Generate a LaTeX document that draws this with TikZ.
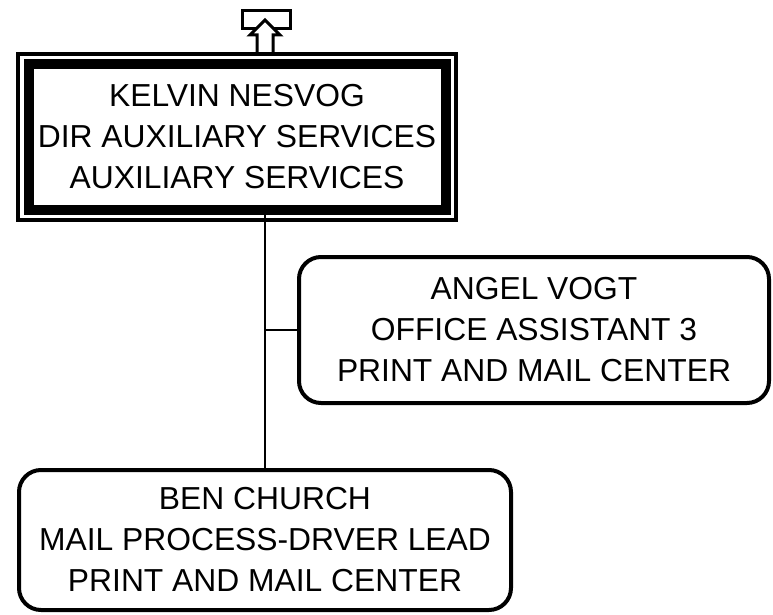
\documentclass[tikz,border=0pt]{standalone}
\usepackage{fontspec}
\setmainfont{Liberation Sans}
\usetikzlibrary{positioning}

\tikzset{
  person/.style={draw,align=center,inner sep=0pt,outer sep=0pt,fill=white,
    font=\fontsize{31.8}{41}\selectfont},
  staff/.style={person,line width=4pt,rounded corners=22pt,minimum width=470pt,minimum height=146pt},
  boss/.style={person,line width=10pt,minimum width=417pt,minimum height=145pt},
  link/.style={line width=2pt}
}

\begin{document}
\begin{tikzpicture}[x=1pt,y=-1pt,line join=miter]
\useasboundingbox (0,0) rectangle (773,615);
\node[boss] (kelvin) at (237,137) {KELVIN NESVOG\\DIR AUXILIARY SERVICES\\AUXILIARY SERVICES};
\draw[line width=4pt] ([xshift=-10.5pt,yshift=10.5pt]kelvin.north west) rectangle ([xshift=10.5pt,yshift=-10.5pt]kelvin.south east);
\node[staff] (angel) at (534,330) {ANGEL VOGT\\OFFICE ASSISTANT 3\\PRINT AND MAIL CENTER};
\node[staff,minimum width=492pt,minimum height=140pt] (ben) at (265,540) {BEN CHURCH\\MAIL PROCESS-DRVER LEAD\\PRINT AND MAIL CENTER};
\draw[link] (kelvin.south -| ben.north) -- (ben.north);
\draw[link] (angel.west -| ben.north) -- (angel.west);
% up arrow above the top box
\coordinate (up) at (ben.north |- 0,52);
\draw[line width=3pt,fill=white] (242,11) rectangle (290,29);
\draw[line width=3pt,fill=white] ([xshift=-8pt]up) -- ++(0,-17) -- ++(-7,0) -- ([yshift=32pt]up) -- ([xshift=15pt,yshift=17pt]up) -- ++(-7,0) -- ([xshift=8pt]up);
\end{tikzpicture}
\end{document}
